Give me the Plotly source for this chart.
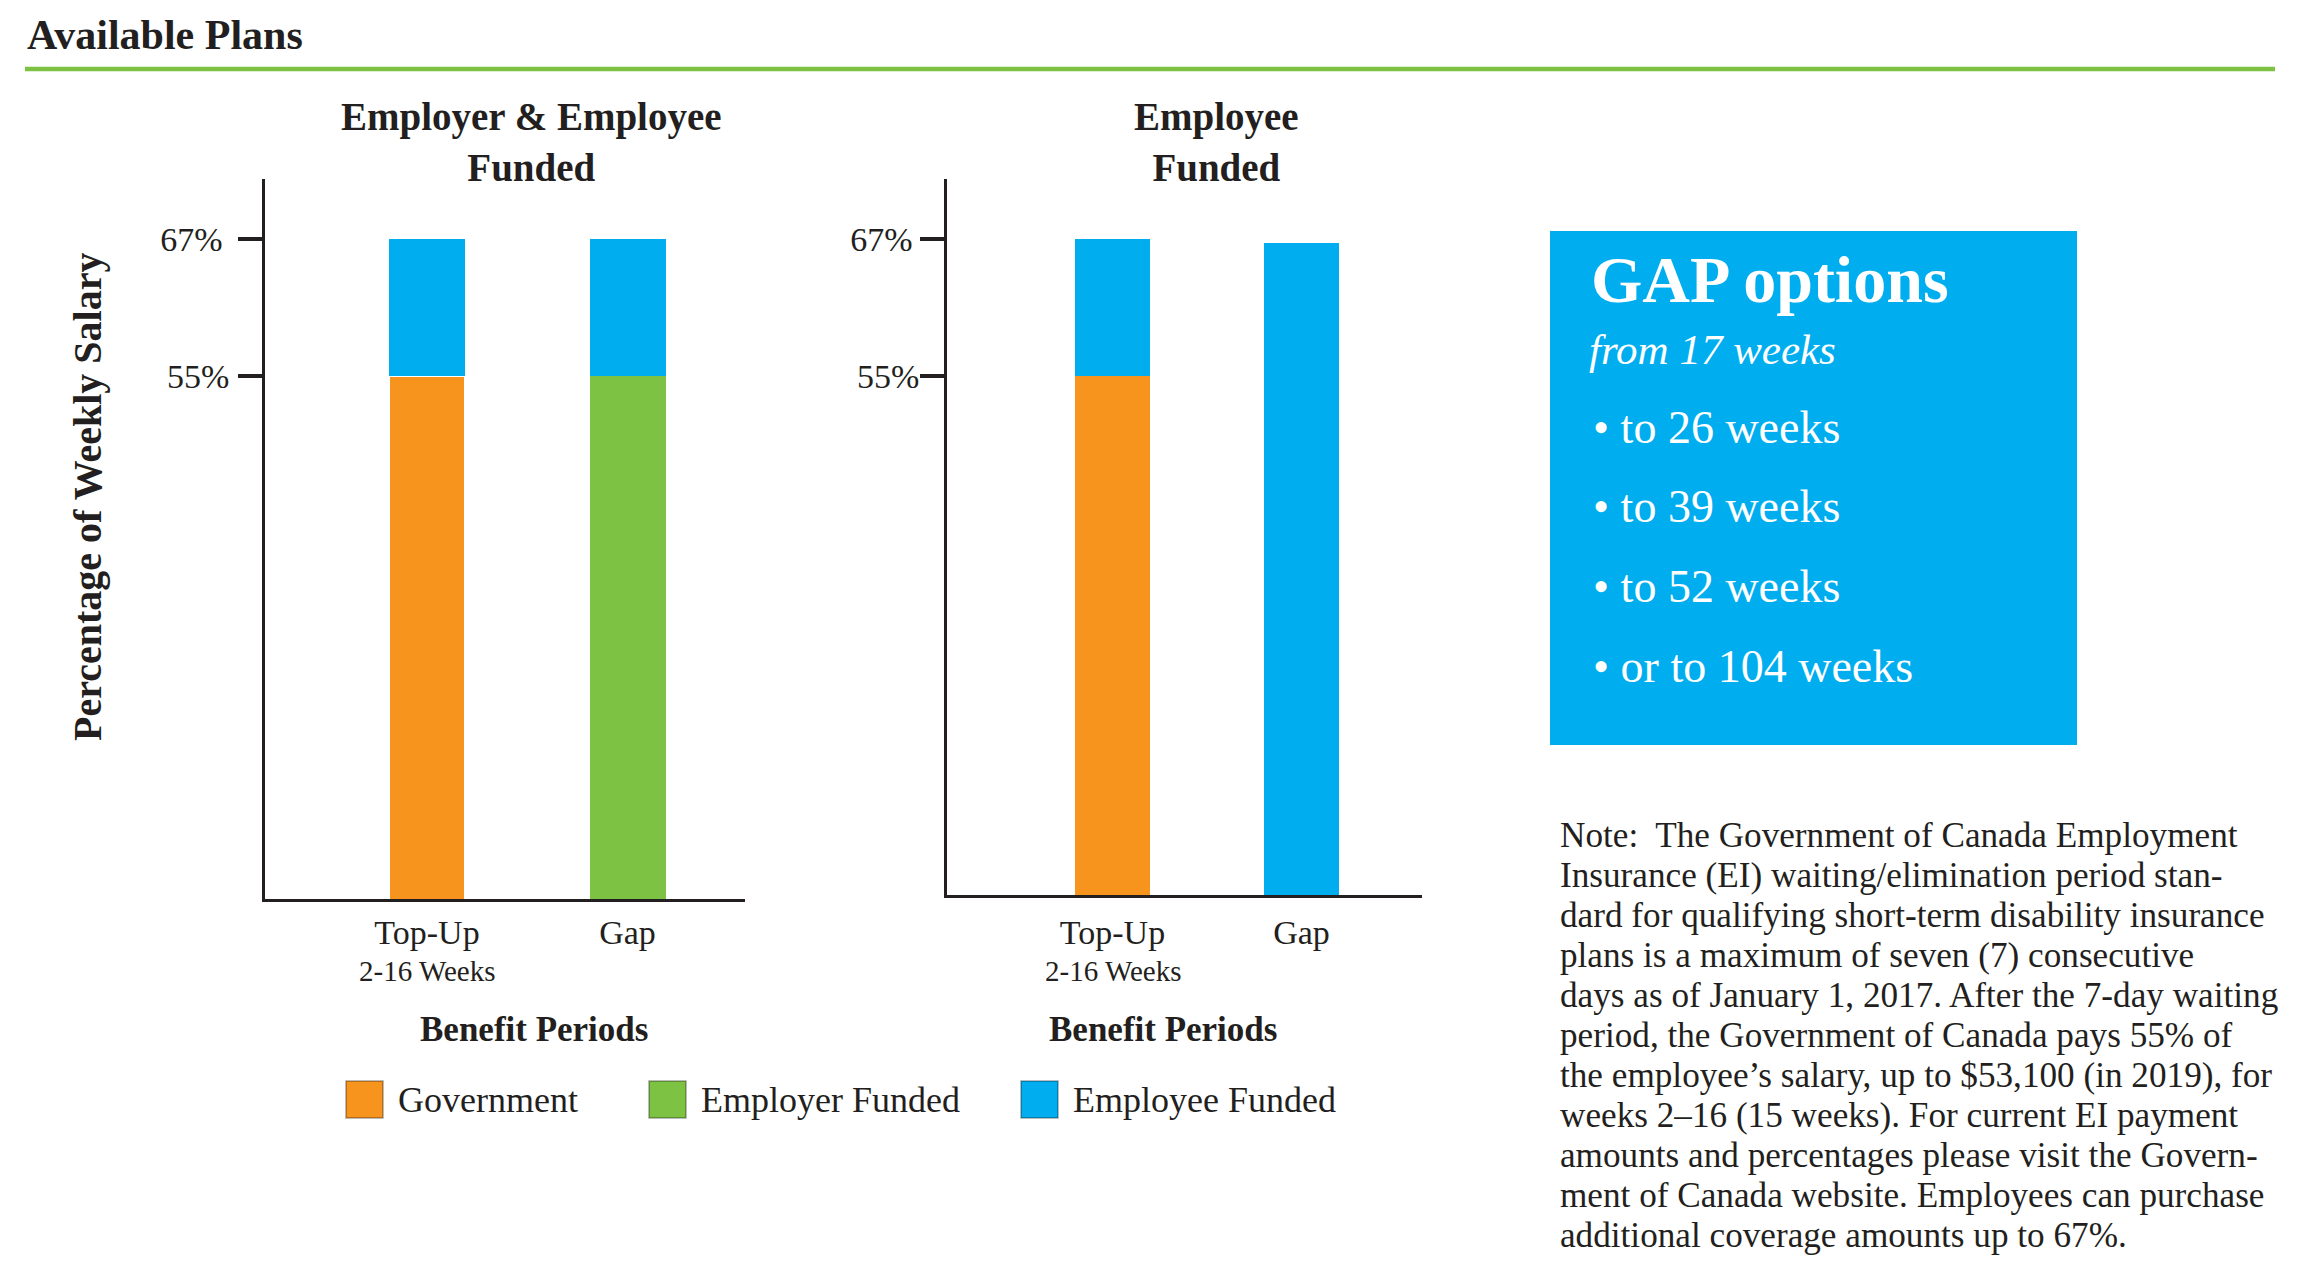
import plotly.graph_objects as go

W, H = 2311, 1281
PAD = 8                      # page body margin in the browser
FW, FH = W - 2 * PAD, H - 2 * PAD

# ---------------- data ----------------
periods = ["Top-Up", "Gap"]
period_sub = "2-16 Weeks"

# Employer & Employee Funded plan (percent of weekly salary)
ee_government = [55, None]
ee_employer = [None, 55]
ee_employee = [12, 12]

# Employee Funded plan
e_government = [55, None]
e_employee = [12, 66.7]

tick_vals = [55, 67]
tick_text = ["55%", "67%\u2009"]

series_names = ["Government", "Employer Funded", "Employee Funded"]
series_colors = ["#f7941d", "#7dc242", "#00aeef"]

panel_titles = ["Employer & Employee<br>Funded", "Employee<br>Funded"]
x_title = "Benefit Periods"
y_title = "Percentage of Weekly Salary"
page_title = "Available Plans"

gap_title = "GAP options"
gap_sub = "from 17 weeks"
gap_items = ["• to 26 weeks", "• to 39 weeks", "• to 52 weeks", "• or to 104 weeks"]

note_lines = [
    "Note:\u00a0 The Government of Canada Employment",
    "Insurance (EI) waiting/elimination period stan-",
    "dard for qualifying short-term disability insurance",
    "plans is a maximum of seven (7) consecutive",
    "days as of January 1, 2017. After the 7-day waiting",
    "period, the Government of Canada pays 55% of",
    "the employee\u2019s salary, up to $53,100 (in 2019), for",
    "weeks 2\u201316 (15 weeks). For current EI payment",
    "amounts and percentages please visit the Govern-",
    "ment of Canada website. Employees can purchase",
    "additional coverage amounts up to 67%.",
]

# ---------------- style ----------------
SERIF = "Liberation Serif"
DARK = "#231f20"
GOV, EMPR, EMPE = series_colors


def px(x):
    return (x - PAD) / FW


def py(y):
    return 1 - (y - PAD) / FH


fig = go.Figure()

# panel 1
fig.add_trace(go.Bar(x=periods, y=ee_government, marker_color=GOV, width=0.379,
                     marker_line=dict(color="white", width=1.2), xaxis="x", yaxis="y",
                     name=series_names[0]))
fig.add_trace(go.Bar(x=periods, y=ee_employer, marker_color=EMPR, width=0.379,
                     marker_line_width=0, xaxis="x", yaxis="y", name=series_names[1]))
fig.add_trace(go.Bar(x=periods, y=ee_employee, marker_color=EMPE, width=0.379,
                     marker_line_width=0, xaxis="x", yaxis="y", name=series_names[2]))
# panel 2
fig.add_trace(go.Bar(x=periods, y=e_government, marker_color=GOV, width=0.397,
                     marker_line_width=0, xaxis="x2", yaxis="y2", name=series_names[0]))
fig.add_trace(go.Bar(x=periods, y=e_employee, marker_color=EMPE, width=0.397,
                     marker_line_width=0, xaxis="x2", yaxis="y2", name=series_names[2]))

xcommon = dict(type="category", showline=True, linecolor=DARK, linewidth=2.5,
               ticks="", showgrid=False, zeroline=False, fixedrange=True,
               tickfont=dict(family=SERIF, size=34, color=DARK))
ycommon = dict(showline=True, linecolor=DARK, linewidth=2.5, ticks="outside",
               ticklen=24, tickwidth=4, tickcolor=DARK, tickvals=tick_vals,
               ticktext=tick_text, showgrid=False, zeroline=False, fixedrange=True,
               tickfont=dict(family=SERIF, size=34, color=DARK))

fig.update_layout(
    width=FW, height=FH, margin=dict(l=0, r=0, t=0, b=0),
    paper_bgcolor="white", plot_bgcolor="white",
    barmode="stack", showlegend=False,
    xaxis=dict(domain=[px(265), px(745)], range=[-0.808, 1.586], anchor="y",
               ticklabelstandoff=1, **xcommon),
    yaxis=dict(domain=[py(899), py(179)], range=[9.12, 72.29], anchor="x",
               ticklabelstandoff=2, **ycommon),
    xaxis2=dict(domain=[px(947), px(1422)], range=[-0.876, 1.638], anchor="y2",
                ticklabelstandoff=5, **xcommon),
    yaxis2=dict(domain=[py(895), py(179)], range=[9.54, 72.29], anchor="x2",
                ticklabelstandoff=-6, **ycommon),
)

ann = []
# page title
ann.append(dict(text="<b>%s</b>" % page_title, x=px(25), y=py(35), xref="paper", yref="paper",
                xanchor="left", yanchor="middle", showarrow=False,
                font=dict(family=SERIF, size=42, color=DARK)))
# panel titles
for t, cx in zip(panel_titles, [531, 1216]):
    ann.append(dict(text="<b>%s</b>" % t, x=px(cx), y=py(142), xref="paper", yref="paper",
                    xanchor="center", yanchor="middle", showarrow=False,
                    font=dict(family=SERIF, size=39, color=DARK)))
# sub-labels under Top-Up ticks
for xr in ["x", "x2"]:
    ann.append(dict(text=period_sub, x=0, y=py(971), xref=xr, yref="paper",
                    xanchor="center", yanchor="middle", showarrow=False,
                    font=dict(family=SERIF, size=29, color=DARK)))
# x titles
for cx in [534, 1163]:
    ann.append(dict(text="<b>%s</b>" % x_title, x=px(cx), y=py(1029), xref="paper", yref="paper",
                    xanchor="center", yanchor="middle", showarrow=False,
                    font=dict(family=SERIF, size=35, color=DARK)))
# y title
ann.append(dict(text="<b>%s</b>" % y_title, x=px(87), y=py(497), xref="paper", yref="paper",
                xanchor="center", yanchor="middle", textangle=-90, showarrow=False,
                font=dict(family=SERIF, size=40, color=DARK)))

shapes = []
# green rule
shapes.append(dict(type="line", xref="paper", yref="paper", x0=px(25), x1=px(2275),
                   y0=py(69), y1=py(69), line=dict(color="#7dc242", width=4.5)))
# legend
for name, col, sx in zip(series_names, series_colors, [346, 649, 1021]):
    shapes.append(dict(type="rect", xref="paper", yref="paper", x0=px(sx), x1=px(sx + 37),
                       y0=py(1118), y1=py(1081), fillcolor=col,
                       line=dict(color="rgba(0,0,0,0.35)", width=1.5)))
    ann.append(dict(text=name, x=px(sx + 50), y=py(1100), xref="paper", yref="paper",
                    xanchor="left", yanchor="middle", showarrow=False,
                    font=dict(family=SERIF, size=36, color=DARK)))
# GAP box
shapes.append(dict(type="rect", xref="paper", yref="paper", x0=px(1550), x1=px(2077),
                   y0=py(745), y1=py(231), fillcolor="#00aeef", line=dict(width=0),
                   layer="below"))
ann.append(dict(text="<b>%s</b>" % gap_title, x=px(1589), y=py(279), xref="paper", yref="paper",
                xanchor="left", yanchor="middle", showarrow=False,
                font=dict(family=SERIF, size=66, color="white")))
ann.append(dict(text="<i>%s</i>" % gap_sub, x=px(1587), y=py(349), xref="paper", yref="paper",
                xanchor="left", yanchor="middle", showarrow=False,
                font=dict(family=SERIF, size=43, color="white")))
for k, item in enumerate(gap_items):
    ann.append(dict(text=item, x=px(1591), y=py(427.5 + 79.5 * k), xref="paper", yref="paper",
                    xanchor="left", yanchor="middle", showarrow=False,
                    font=dict(family=SERIF, size=46, color="white")))
# note
for k, line in enumerate(note_lines):
    ann.append(dict(text=line, x=px(1558), y=py(835 + 40.0 * k), xref="paper", yref="paper",
                    xanchor="left", yanchor="middle", showarrow=False,
                    font=dict(family=SERIF, size=35.2, color=DARK)))

fig.update_layout(annotations=ann, shapes=shapes)
fig.write_html("out.html")
